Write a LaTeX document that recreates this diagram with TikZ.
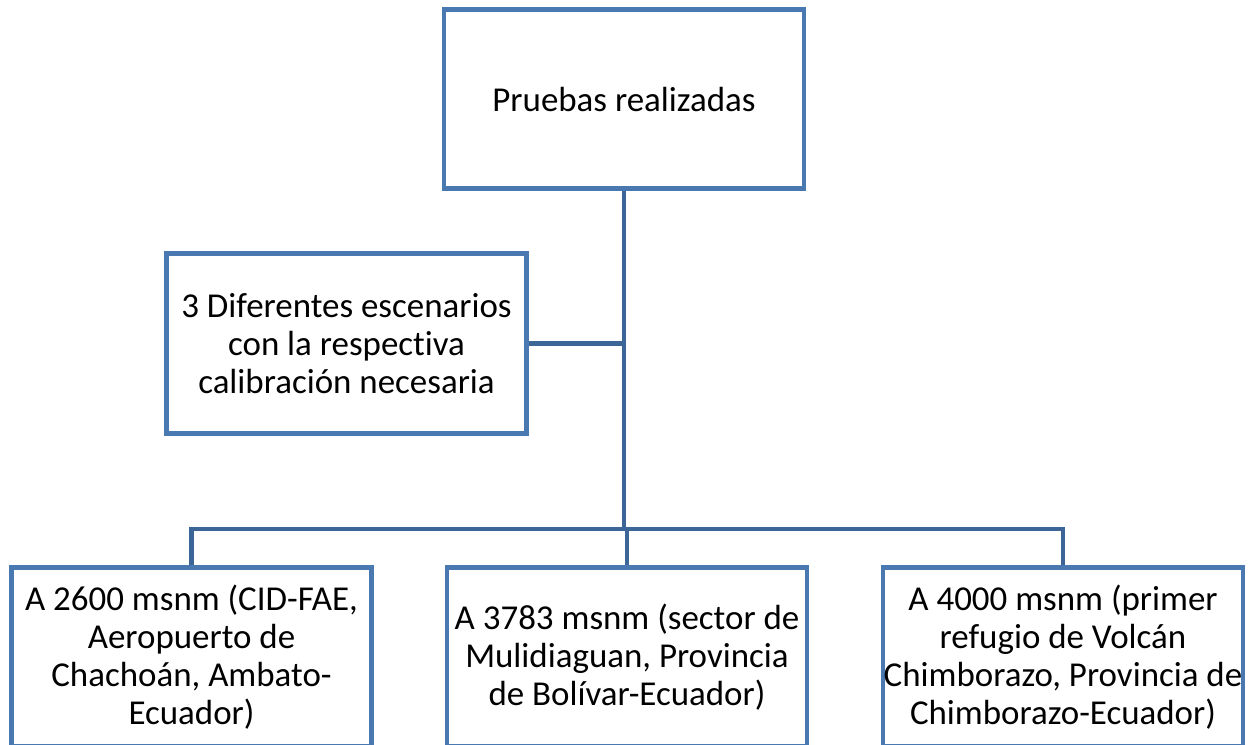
\documentclass[tikz,border=0pt]{standalone}
\usepackage{fontspec}
\setmainfont[Ligatures=NoCommon]{Carlito}
\definecolor{boxline}{RGB}{74,120,176}
\definecolor{linkline}{RGB}{60,102,151}

\begin{document}
\begin{tikzpicture}[x=0.75pt,y=-0.75pt,
  box/.style={draw=boxline,line width=3.6pt,fill=white,rectangle,align=center,inner sep=0pt,
    minimum width=270pt,minimum height=134.5pt,font=\fontsize{26.2}{28.6}\selectfont},
  link/.style={draw=linkline,line width=3.6pt}]
  \useasboundingbox (0,0) rectangle (1256,744);
  \clip (0,0) rectangle (1256,744);

  % top
  \node[box] (top) at (624,99) {Pruebas realizadas};
  \node[box] (calib) at (346.5,343.5) {3 Diferentes escenarios\\con la respectiva\\calibración necesaria};

  % altitudes
  \node[box] (alt1) at (191.5,657) {A 2600 msnm (CID-FAE,\\Aeropuerto de\\Chachoán, Ambato-\\Ecuador)};
  \node[box] (alt2) at (627,657) {A 3783 msnm (sector de\\Mulidiaguan, Provincia\\de Bolívar-Ecuador)};
  \node[box] (alt3) at (1063,657) {A 4000 msnm (primer\\refugio de Volcán\\Chimborazo, Provincia de\\Chimborazo-Ecuador)};

  % links
  \coordinate (hub) at (624,529);
  \draw[link] (top.south) -- (hub);
  \draw[link] (calib.east) -- (calib.east -| hub);
  \draw[link] (alt1.north) |- (alt3.north |- hub) -- (alt3.north);
  \draw[link] (hub -| alt2.north) -- (alt2.north);

\end{tikzpicture}
\end{document}
